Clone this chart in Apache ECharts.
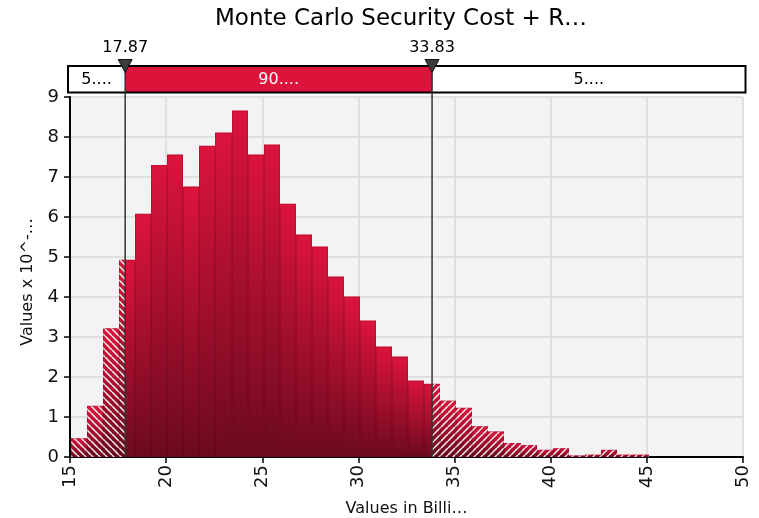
<!DOCTYPE html>
<html><head><meta charset="utf-8">
<script src="https://cdn.jsdelivr.net/npm/echarts@6/dist/echarts.min.js"></script>
<style>html,body{margin:0;padding:0;background:#fff}#c{width:759px;height:518px}</style>
</head><body><div id="c"></div>
<script>
// ---- data ----
const titleText = 'Monte Carlo Security Cost + R…';
const xAxisName = 'Values in Billi…';
const yAxisName = 'Values x 10^-…';
const binStart = 15.05;
const binWidth = 0.835;
const binHeights = [0.47, 1.28, 3.22, 4.93, 6.08, 7.30, 7.56, 6.76, 7.78, 8.11, 8.66, 7.56,
  7.81, 6.33, 5.56, 5.26, 4.51, 4.01, 3.41, 2.76, 2.51, 1.91, 1.83, 1.41, 1.23, 0.77,
  0.64, 0.35, 0.30, 0.18, 0.22, 0.04, 0.06, 0.18, 0.06, 0.06];
const cutValues = [17.87, 33.83];
const cutLabels = ['17.87', '33.83'];
const bandLabels = ['5....', '90....', '5....'];
const xMin = 15, xMax = 50, xStep = 5;
const yMin = 0, yMax = 9, yStep = 1;

const FONT = 'Tahoma, "DejaVu Sans", Verdana, sans-serif';
const CRIMSON = '#dc143c';

function makeHatch(dir) {
  const s = 7, c = document.createElement('canvas');
  c.width = s; c.height = s;
  const g = c.getContext('2d');
  g.strokeStyle = 'rgba(255,255,255,0.95)';
  g.lineWidth = 1.5;
  for (let k = -1; k <= 1; k++) {
    g.beginPath();
    if (dir > 0) { g.moveTo(k * s, 0); g.lineTo(k * s + s, s); }
    else { g.moveTo(k * s, s); g.lineTo(k * s + s, 0); }
    g.stroke();
  }
  return c;
}
const hatchL = makeHatch(1);
const hatchR = makeHatch(-1);

const histData = binHeights.map((h, i) => [binStart + i * binWidth, h]);

function barGradient() {
  return new echarts.graphic.LinearGradient(0, 0, 0, 1, [
    { offset: 0, color: '#dc143c' },
    { offset: 1, color: '#6b0a1e' }
  ]);
}

function renderBars(params, api) {
  const x0 = api.value(0), v = api.value(1), x1 = x0 + binWidth;
  const top = api.coord([x0, v])[1], bottom = api.coord([x0, 0])[1];
  const parts = [
    [x0, Math.min(x1, cutValues[0]), 'L'],
    [Math.max(x0, cutValues[0]), Math.min(x1, cutValues[1]), 'M'],
    [Math.max(x0, cutValues[1]), x1, 'R']
  ];
  const children = [];
  const fx0 = Math.round(api.coord([x0, v])[0]), fx1 = Math.round(api.coord([x1, v])[0]);
  parts.forEach(([a, b, k]) => {
    if (b <= a) return;
    const pa = Math.round(api.coord([a, v])[0]), pb = Math.round(api.coord([b, v])[0]);
    const shape = { x: pa, y: top, width: pb - pa, height: bottom - top };
    children.push({ type: 'rect', shape: shape, style: { fill: barGradient() } });
    if (k !== 'M') {
      children.push({ type: 'rect', shape: shape,
        style: { fill: { image: k === 'L' ? hatchL : hatchR, repeat: 'repeat' } } });
    }
  });
  children.push({ type: 'rect', shape: { x: fx0 + 0.5, y: top + 0.5, width: fx1 - fx0 - 1, height: bottom - top - 0.5 },
    style: { fill: 'none', stroke: 'rgba(70,0,20,0.18)', lineWidth: 1 } });
  return { type: 'group', children: children };
}

function renderBand(params, api) {
  const cs = params.coordSys;
  const xl = api.coord([cutValues[0], 0])[0];
  const xr = api.coord([cutValues[1], 0])[0];
  const bandTop = cs.y - 31, bandBottom = cs.y - 4.5;
  const L = cs.x - 2, R = cs.x + cs.width + 2.5;
  const axisY = cs.y + cs.height;
  const h = bandBottom - bandTop;
  const midY = (bandTop + bandBottom) / 2;
  const ch = [];
  ch.push({ type: 'rect', shape: { x: L, y: bandTop, width: R - L, height: h }, style: { fill: '#fff' } });
  ch.push({ type: 'rect', shape: { x: xl, y: bandTop, width: xr - xl, height: h }, style: { fill: CRIMSON } });
  ch.push({ type: 'rect', shape: { x: L, y: bandTop, width: R - L, height: h }, style: { fill: 'none', stroke: '#000', lineWidth: 2 } });
  const centers = [(L + xl) / 2, (xl + xr) / 2, (xr + R) / 2];
  const colors = ['#000', '#fff', '#000'];
  centers.forEach((cx, i) => {
    ch.push({ type: 'text', x: cx, y: midY + 1, style: { text: bandLabels[i], fill: colors[i],
      font: '16px ' + FONT, align: 'center', verticalAlign: 'middle' } });
  });
  [xl, xr].forEach((x, i) => {
    ch.push({ type: 'line', shape: { x1: x, y1: bandTop, x2: x, y2: axisY }, style: { stroke: '#333', lineWidth: 1.5 } });
    ch.push({ type: 'polygon', shape: { points: [[x - 7, bandTop - 6.5], [x + 7, bandTop - 6.5], [x, bandTop + 6.5]] },
      style: { fill: '#3c3c3c', stroke: '#111', lineWidth: 1 } });
    ch.push({ type: 'text', x: x, y: bandTop - 18.5, style: { text: cutLabels[i], fill: '#000',
      font: '16px ' + FONT, align: 'center', verticalAlign: 'middle' } });
  });
  return { type: 'group', children: ch };
}

const chart = echarts.init(document.getElementById('c'), null, { renderer: 'canvas' });
chart.setOption({
  animation: false,
  textStyle: { fontFamily: FONT },
  title: { text: titleText, left: 210, top: 3,
    textStyle: { fontSize: 23, fontWeight: 'normal', color: '#000', fontFamily: FONT } },
  grid: { left: 70, right: 16, top: 97, bottom: 61, show: true, backgroundColor: '#f3f3f3', borderWidth: 0,
    containLabel: false, outerBoundsMode: 'none' },
  xAxis: {
    type: 'value', min: xMin, max: xMax, interval: xStep,
    name: xAxisName, nameLocation: 'middle', nameGap: 44,
    nameTextStyle: { fontSize: 16, color: '#111', fontFamily: FONT },
    axisLine: { show: true, onZero: false, lineStyle: { color: '#000', width: 2 } },
    axisTick: { show: true, inside: false, length: 6, lineStyle: { color: '#000', width: 1.5 } },
    axisLabel: { rotate: 90, fontSize: 18, color: '#111', margin: 8, fontFamily: FONT },
    splitLine: { show: true, lineStyle: { color: '#d8d8d8', width: 1.5 } }
  },
  yAxis: {
    type: 'value', min: yMin, max: yMax, interval: yStep,
    name: yAxisName, nameLocation: 'middle', nameGap: 34, nameRotate: 90,
    nameTextStyle: { fontSize: 16, color: '#111', fontFamily: FONT, padding: [0, 10, 0, 0] },
    axisLine: { show: true, lineStyle: { color: '#000', width: 2 } },
    axisTick: { show: true, inside: false, length: 6, lineStyle: { color: '#000', width: 1.5 } },
    axisLabel: { fontSize: 18, color: '#111', margin: 11, fontFamily: FONT },
    splitLine: { show: true, lineStyle: { color: '#d8d8d8', width: 1.5 } }
  },
  series: [
    { type: 'custom', renderItem: renderBars, data: histData, clip: false, silent: true,
      encode: { x: 0, y: 1 } },
    { type: 'custom', renderItem: renderBand, data: [[cutValues[0], 0]], clip: false, silent: true,
      encode: { x: 0, y: 1 }, z: 5 }
  ]
});
</script></body></html>
